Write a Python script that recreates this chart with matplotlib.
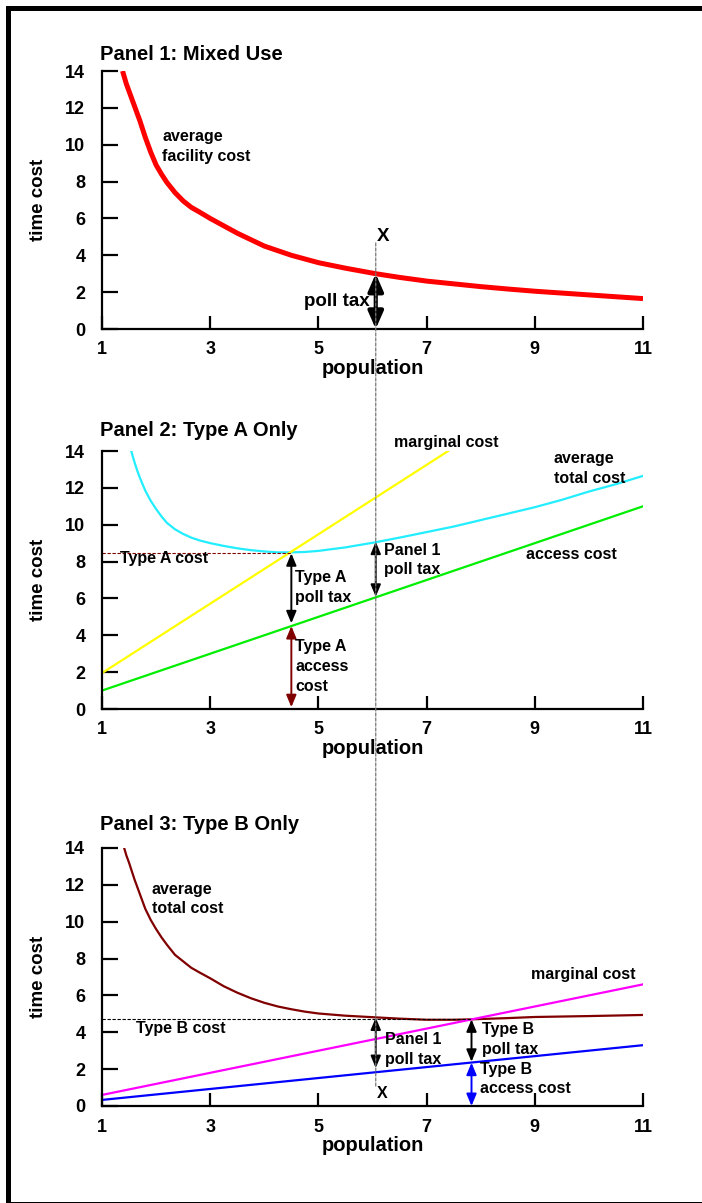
import numpy as np
import matplotlib.pyplot as plt
from matplotlib.patches import Rectangle, ConnectionPatch

plt.rcParams['font.family'] = ['Liberation Sans', 'DejaVu Sans']
plt.rcParams['font.weight'] = 'bold'

# ---- data ----
x_ticks = [1, 3, 5, 7, 9, 11]
y_ticks = [0, 2, 4, 6, 8, 10, 12, 14]

# Panel 1: mixed use
p1_x = [1.38, 1.45, 1.5, 1.6, 1.7, 1.8, 1.9, 2.0, 2.1, 2.2, 2.35, 2.5, 2.65, 2.8, 3.0,
        3.25, 3.5, 3.75, 4.0, 4.25, 4.5, 4.75, 5.0, 5.5, 6.06, 6.5, 7, 7.5, 8, 8.5,
        9, 9.5, 10, 10.5, 11]
p1_avg_facility = [14.0, 13.3, 12.9, 12.1, 11.3, 10.4, 9.6, 8.9, 8.4, 7.95, 7.4, 6.95, 6.6, 6.35, 6.0,
                   5.6, 5.2, 4.85, 4.5, 4.25, 4.0, 3.8, 3.6, 3.3, 3.0, 2.8, 2.6, 2.45, 2.3, 2.17,
                   2.05, 1.95, 1.85, 1.75, 1.65]

# Panel 2: type A only
p2_x = [1.54, 1.6, 1.65, 1.7, 1.8, 1.9, 2.0, 2.1, 2.2, 2.35, 2.5, 2.65, 2.8, 3.0, 3.25,
        3.5, 3.75, 4.0, 4.25, 4.5, 4.75, 5.0, 5.5, 6.06, 6.5, 7, 7.5, 8, 8.5, 9,
        9.5, 10, 10.5, 11]
p2_avg_total = [14.0, 13.4, 12.95, 12.55, 11.85, 11.3, 10.85, 10.45, 10.1, 9.75, 9.5, 9.3, 9.15, 9.0, 8.85,
                8.72, 8.62, 8.55, 8.5, 8.5, 8.52, 8.58, 8.77, 9.05, 9.3, 9.6, 9.9, 10.25, 10.6, 10.95,
                11.35, 11.8, 12.2, 12.65]
p2_mc_x = [1, 7.4]
p2_marginal = [1.95, 14.0]
p2_acc_x = [1, 11]
p2_access = [1.0, 11.0]
typeA_pop = 4.5
typeA_cost = 8.45
typeA_access = 4.5

# Panel 3: type B only
p3_x = [1.41, 1.45, 1.5, 1.6, 1.7, 1.8, 1.9, 2.0, 2.1, 2.2, 2.35, 2.5, 2.65, 2.8, 3.0,
        3.25, 3.5, 3.75, 4.0, 4.25, 4.5, 4.75, 5.0, 5.5, 6.06, 6.5, 7, 7.5, 7.8, 8.5,
        9, 10, 11]
p3_avg_total = [14.0, 13.6, 13.2, 12.3, 11.5, 10.7, 10.1, 9.6, 9.15, 8.75, 8.2, 7.85, 7.5, 7.25, 6.93,
                6.5, 6.15, 5.85, 5.6, 5.4, 5.25, 5.12, 5.02, 4.9, 4.81, 4.74, 4.68, 4.68, 4.7, 4.77,
                4.83, 4.88, 4.94]
p3_line_x = [1, 11]
p3_marginal = [0.6, 6.6]
p3_access = [0.33, 3.3]
typeB_pop = 7.83
typeB_cost = 4.7
typeB_access = 2.35

# mixed-use population X and panel 1 poll tax
pop_X = 6.06
p1_tax = 3.0
p2_at_X = (9.08, 6.09)
p3_at_X = (4.8, 2.06)

W, H = 702, 1203
fig = plt.figure(figsize=(W / 100, H / 100), dpi=100)


def fx(px):
    return px / W


def fy(py):
    return 1 - py / H


def make_axes(top, bottom):
    ax = fig.add_axes([fx(102), fy(bottom), (643 - 102) / W, (bottom - top) / H])
    ax.set_xlim(1, 11)
    ax.set_ylim(0, 14)
    ax.set_xticks(x_ticks)
    ax.set_yticks(y_ticks)
    for s in ['top', 'right']:
        ax.spines[s].set_visible(False)
    for s in ['left', 'bottom']:
        ax.spines[s].set_linewidth(1.6)
    ax.tick_params(axis='y', direction='in', length=11.5, width=1.6, pad=12, labelsize=13)
    ax.tick_params(axis='x', direction='in', length=9.5, width=1.6, pad=9, labelsize=13)
    ax.set_xlabel('population', fontsize=14.5, fontweight='bold')
    ax.set_ylabel('time cost', fontsize=13.5, fontweight='bold')
    ax.xaxis.set_label_coords(0.5, -0.118)
    ax.yaxis.set_label_coords(-0.102, 0.5)
    return ax


def dbl_arrow(ax, x, y0, y1, color='black', lw=1.4, hl=0.6, hw=0.25, ms=12):
    ax.annotate('', xy=(x, y1), xytext=(x, y0),
                arrowprops=dict(arrowstyle=f'<|-|>,head_length={hl},head_width={hw}',
                                color=color, lw=lw, shrinkA=0, shrinkB=0,
                                mutation_scale=ms))


note = dict(fontsize=11.5, fontweight='bold', linespacing=1.4)

# ---- Panel 1 ----
ax1 = make_axes(71, 329)
ax1.plot(p1_x, p1_avg_facility, color='#ff0000', lw=3.6, solid_capstyle='butt')
dbl_arrow(ax1, pop_X, 0, p1_tax, lw=3, hl=0.8, hw=0.35, ms=13)
ax1.text(2.11, 9.9, 'average\nfacility cost', ha='left', va='center', **note)
ax1.text(5.95, 1.47, 'poll tax', ha='right', va='center', fontsize=13.5)
ax1.text(6.19, 5.0, 'X', ha='center', va='center', fontsize=13.5)
fig.text(fx(100), fy(54), 'Panel 1: Mixed Use', ha='left', va='center', fontsize=14.5)

# ---- Panel 2 ----
ax2 = make_axes(451, 709)
ax2.plot(p2_x, p2_avg_total, color='#22eeff', lw=1.6)
ax2.plot(p2_mc_x, p2_marginal, color='#ffff00', lw=1.6)
ax2.plot(p2_acc_x, p2_access, color='#00ee00', lw=1.6)
ax2.plot([1, typeA_pop], [typeA_cost, typeA_cost], color='#800000', lw=0.8, ls=(0, (3, 1.5)))
dbl_arrow(ax2, typeA_pop, typeA_cost, typeA_access + 0.15)
dbl_arrow(ax2, typeA_pop, typeA_access, 0.1, color='#800000')
dbl_arrow(ax2, pop_X, p2_at_X[0], p2_at_X[1])
ax2.text(1.33, 8.14, 'Type A cost', ha='left', va='center', **note)
ax2.text(4.57, 6.59, 'Type A\npoll tax', ha='left', va='center', **note)
ax2.text(4.57, 2.31, 'Type A\naccess\ncost', ha='left', va='center', **note)
ax2.text(6.22, 8.08, 'Panel 1\npoll tax', ha='left', va='center', **note)
ax2.text(6.39, 14.45, 'marginal cost', ha='left', va='center', clip_on=False, **note)
ax2.text(9.35, 13.06, 'average\ntotal cost', ha='left', va='center', **note)
ax2.text(8.83, 8.41, 'access cost', ha='left', va='center', **note)
fig.text(fx(100), fy(430), 'Panel 2: Type A Only', ha='left', va='center', fontsize=14.5)

# ---- Panel 3 ----
ax3 = make_axes(848, 1106)
ax3.plot(p3_x, p3_avg_total, color='#800000', lw=1.6)
ax3.plot(p3_line_x, p3_marginal, color='#ff00ff', lw=1.6)
ax3.plot(p3_line_x, p3_access, color='#0000ff', lw=1.6)
ax3.plot([1, typeB_pop], [typeB_cost, typeB_cost], color='black', lw=0.8, ls=(0, (3, 1.5)))
dbl_arrow(ax3, pop_X, p3_at_X[0], p3_at_X[1])
dbl_arrow(ax3, typeB_pop, typeB_cost, typeB_access + 0.05)
dbl_arrow(ax3, typeB_pop, typeB_access, 0, color='#0000ff')
ax3.text(1.92, 11.23, 'average\ntotal cost', ha='left', va='center', **note)
ax3.text(1.63, 4.21, 'Type B cost', ha='left', va='center', **note)
ax3.text(6.24, 3.08, 'Panel 1\npoll tax', ha='left', va='center', **note)
ax3.text(8.03, 3.63, 'Type B\npoll tax', ha='left', va='center', **note)
ax3.text(7.99, 1.46, 'Type B\naccess cost', ha='left', va='center', **note)
ax3.text(8.93, 7.11, 'marginal cost', ha='left', va='center', **note)
ax3.text(6.18, 0.69, 'X', ha='center', va='center', fontsize=11.5)
fig.text(fx(100), fy(825), 'Panel 3: Type B Only', ha='left', va='center', fontsize=14.5)

# dashed guide at population X, running through all three panels
guide = ConnectionPatch(xyA=(pop_X, 4.67), coordsA=ax1.transData,
                        xyB=(pop_X, 1.03), coordsB=ax3.transData,
                        color='#777777', lw=0.9, ls=(0, (2.5, 1.5)))
fig.add_artist(guide)

# outer frame
fig.add_artist(Rectangle((fx(7.5), fy(1203.5)), fx(720) - fx(7.5), fy(7.5) - fy(1203.5),
                         transform=fig.transFigure, fill=False, lw=3.6, ec='black'))

fig.savefig('out.png', dpi=100)
